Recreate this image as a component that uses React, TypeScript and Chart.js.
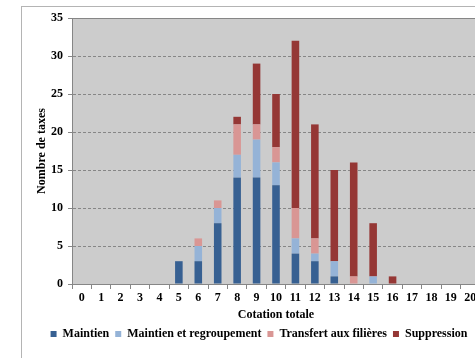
import React, { useEffect, useRef } from "react";
import { Chart, registerables } from "chart.js";

Chart.register(...registerables);

// Cotation totale (x categories)
const cotations = [
  "0", "1", "2", "3", "4", "5", "6", "7", "8", "9", "10",
  "11", "12", "13", "14", "15", "16", "17", "18", "19", "20",
];

// Nombre de taxes per decision, stacked per cotation
const maintien = [0, 0, 0, 0, 0, 3, 3, 8, 14, 14, 13, 4, 3, 1, 0, 0, 0, 0, 0, 0, 0];
const maintienRegroupement = [0, 0, 0, 0, 0, 0, 2, 2, 3, 5, 3, 2, 1, 2, 0, 1, 0, 0, 0, 0, 0];
const transfertFilieres = [0, 0, 0, 0, 0, 0, 1, 1, 4, 2, 2, 4, 2, 0, 1, 0, 0, 0, 0, 0, 0];
const suppression = [0, 0, 0, 0, 0, 0, 0, 0, 1, 8, 7, 22, 15, 12, 15, 7, 1, 0, 0, 0, 0];

const seriesLabels = [
  "Maintien",
  "Maintien et regroupement",
  "Transfert aux filières",
  "Suppression",
];
const seriesColors = ["#376092", "#95b3d7", "#d99694", "#953735"];

const yTicks = [0, 5, 10, 15, 20, 25, 30, 35];

const FONT = "'Liberation Serif', 'Times New Roman', serif";
const AXIS_GREY = "#868686";

// Grey plot background with a top border line
const plotFrame = {
  id: "plotFrame",
  beforeDraw(chart: any) {
    const { ctx, chartArea } = chart;
    const { left, top, right, bottom } = chartArea;
    ctx.save();
    ctx.fillStyle = "#cccccc";
    ctx.fillRect(left, top, right - left, bottom - top);
    ctx.restore();
  },
  afterDraw(chart: any) {
    const { ctx, chartArea } = chart;
    const { left, top, right } = chartArea;
    ctx.save();
    ctx.strokeStyle = AXIS_GREY;
    ctx.lineWidth = 1;
    ctx.beginPath();
    ctx.moveTo(left, Math.round(top) + 0.5);
    ctx.lineTo(right, Math.round(top) + 0.5);
    ctx.stroke();
    ctx.restore();
  },
};

export default function App() {
  const canvasRef = useRef<HTMLCanvasElement | null>(null);

  useEffect(() => {
    if (!canvasRef.current) return;
    const data = [maintien, maintienRegroupement, transfertFilieres, suppression];
    const chart = new Chart(canvasRef.current, {
      type: "bar",
      data: {
        labels: cotations,
        datasets: data.map((values, i) => ({
          label: seriesLabels[i],
          data: values,
          backgroundColor: seriesColors[i],
          borderWidth: 0,
          barPercentage: 0.39,
          categoryPercentage: 1,
        })),
      },
      options: {
        animation: false,
        responsive: false,
        devicePixelRatio: 1,
        layout: { padding: { left: 38, right: 38, top: 18, bottom: 8 } },
        plugins: {
          legend: {
            position: "bottom",
            labels: {
              boxWidth: 6,
              boxHeight: 6,
              padding: 6,
              color: "#000",
              font: { family: FONT, size: 12, weight: "bold" },
            },
          },
          tooltip: { enabled: false },
        },
        scales: {
          x: {
            stacked: true,
            afterFit: (scale: any) => {
              scale.height = 38;
            },
            grid: {
              display: true,
              drawOnChartArea: false,
              drawTicks: true,
              offset: true,
              tickLength: 5,
              tickColor: AXIS_GREY,
              color: AXIS_GREY,
            },
            border: { color: AXIS_GREY, width: 1 },
            ticks: {
              color: "#000",
              padding: 2,
              autoSkip: false,
              maxRotation: 0,
              font: { family: FONT, size: 12, weight: "bold" },
            },
            title: {
              display: true,
              text: "Cotation totale",
              color: "#000",
              padding: { top: 0, bottom: 0 },
              font: { family: FONT, size: 12, weight: "bold" },
            },
          },
          y: {
            stacked: true,
            min: 0,
            max: 35,
            afterFit: (scale: any) => {
              scale.width = 34;
            },
            afterBuildTicks: (scale: any) => {
              scale.ticks = yTicks.map((v) => ({ value: v }));
            },
            grid: {
              color: (ctx: any) =>
                ctx.tick && (ctx.tick.value === 0 || ctx.tick.value === 35)
                  ? "rgba(0,0,0,0)"
                  : AXIS_GREY,
              tickLength: 4,
              tickColor: AXIS_GREY,
              tickBorderDash: [],
            },
            border: { color: AXIS_GREY, width: 1, dash: [3, 2] },
            ticks: {
              color: "#000",
              padding: 5,
              font: { family: FONT, size: 12, weight: "bold" },
            },
            title: {
              display: true,
              text: "Nombre de taxes",
              color: "#000",
              padding: { top: -3, bottom: 0 },
              font: { family: FONT, size: 12, weight: "bold" },
            },
          },
        },
      },
      plugins: [plotFrame],
    } as any);
    return () => chart.destroy();
  }, []);

  return (
    <div
      style={{
        position: "fixed",
        left: 0,
        top: 0,
        width: 475,
        height: 358,
        overflow: "hidden",
        background: "#ffffff",
      }}
    >
      <div
        style={{
          position: "absolute",
          left: 21,
          top: 6,
          width: 1000,
          height: 1000,
          borderLeft: "1px solid #b4b4b4",
          borderTop: "1px solid #b4b4b4",
        }}
      />
      <canvas
        ref={canvasRef}
        width={518}
        height={358}
        style={{ position: "absolute", left: 0, top: 0, width: 518, height: 358, display: "block" }}
      />
    </div>
  );
}
